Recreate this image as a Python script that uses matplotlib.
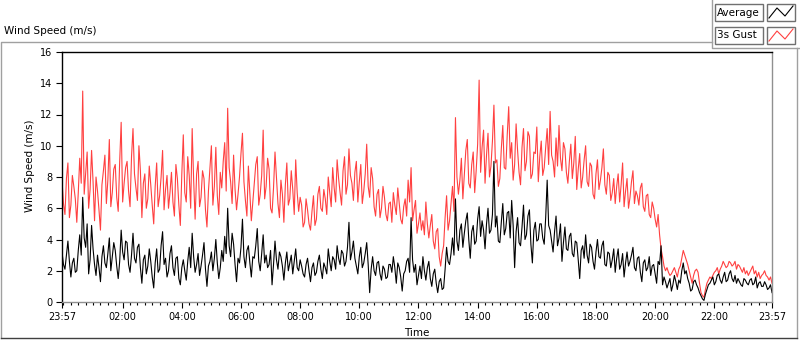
import numpy as np
import matplotlib.pyplot as plt
from matplotlib.patches import Rectangle
from matplotlib.lines import Line2D

# 3 s gust wind speed (m/s), one value every 3 minutes starting 23:57
gust = [7.8, 6.3, 5.6, 7.9, 8.9, 5.4, 6.2, 8.1, 7.4, 6.6,
        5.1, 7.0, 9.2, 7.6, 13.5, 6.9, 8.3, 9.6, 6.0, 7.2,
        9.7, 7.7, 5.2, 8.0, 7.1, 5.9, 4.6, 7.5, 8.4, 9.4,
        6.3, 7.8, 10.4, 6.1, 7.0, 8.5, 8.8, 6.7, 5.8, 9.0,
        11.5, 6.4, 7.6, 8.6, 9.0, 7.1, 6.1, 9.3, 11.1, 8.2,
        7.3, 6.5, 10.0, 8.4, 5.4, 7.6, 8.2, 6.0, 6.6, 8.7,
        7.5, 6.2, 5.0, 7.4, 8.9, 6.1, 6.8, 8.0, 9.7, 5.9,
        7.2, 8.1, 6.0, 7.0, 8.3, 6.4, 5.5, 8.8, 7.9, 6.2,
        4.9, 8.2,
        10.7, 7.0, 6.4, 9.3, 8.1, 6.0, 11.1, 7.8, 5.3, 8.2,
        9.0, 6.1, 6.7, 8.4, 7.9, 5.9, 4.8, 7.1, 8.6, 10.0,
        6.2, 7.4, 9.9, 6.8, 5.6, 8.3, 7.3, 9.0, 10.2, 7.1,
        12.4, 8.6, 7.7, 6.3, 9.4, 7.2, 5.9, 6.9, 8.0, 9.5,
        10.8, 7.7, 6.5, 5.5, 8.7, 7.0, 5.2, 6.4, 7.6, 8.8,
        9.3, 6.2, 6.9, 8.1, 11.0, 6.6, 7.4, 9.2, 8.5, 6.0,
        5.7, 7.3, 9.6, 8.0, 6.3, 5.4, 7.8, 6.9, 5.1, 7.5,
        8.9, 6.2, 6.6, 8.4, 7.2, 5.6, 9.1, 7.0, 5.8, 6.7,
        6.2, 4.8, 5.1, 6.6, 5.9, 5.0, 4.6, 5.8, 6.8, 4.9,
        5.3, 6.9, 7.4, 6.0, 5.8, 7.2, 6.6, 5.6, 8.0, 7.0,
        6.1, 8.6, 7.3, 6.4, 9.1, 7.9, 7.0, 6.2, 8.4, 9.3,
        6.9, 7.5, 9.8, 8.1, 7.6, 6.5, 8.3, 9.0, 6.4, 7.7,
        8.8, 6.3, 7.1, 8.2, 10.1, 7.4, 6.7, 8.6, 7.9, 6.1,
        5.5, 6.9, 7.2, 5.4, 6.0, 7.4, 6.7, 5.6, 5.2, 6.3,
        6.4, 5.1, 7.0, 6.2, 5.6, 7.3, 6.3, 5.3, 5.0, 6.1,
        6.6, 5.5, 7.8, 6.4, 8.6, 5.2, 5.9, 6.5, 4.4, 5.0,
        5.7, 4.6,
        5.2, 4.3, 6.4, 5.0, 4.1, 4.9, 5.6, 3.9, 3.4, 4.5,
        4.7, 2.9, 2.3, 3.1, 3.6, 5.4, 6.8, 4.6, 5.2, 6.3,
        7.4, 5.8, 11.8, 8.0, 6.9, 7.8, 9.2, 6.6, 8.1, 9.7,
        10.4, 7.6, 7.3, 8.8, 9.6, 7.0, 8.4, 10.1, 14.2, 8.3,
        9.9, 11.0, 7.6, 9.4, 10.8, 8.0, 8.7, 10.3, 12.6, 8.9,
        9.1, 7.4, 7.9, 9.8, 11.3, 8.6, 8.5, 10.7, 12.5, 9.2,
        10.2, 7.8, 8.8, 11.4, 9.7, 8.3, 7.5, 9.9, 11.1, 8.4,
        9.0, 10.9, 10.6, 7.9, 8.2, 9.6, 9.5, 11.2, 7.7, 9.3,
        10.3, 8.1, 8.6, 9.9, 11.1, 8.8, 12.2, 9.4, 9.0, 8.0,
        10.5, 8.7, 11.3, 9.2, 8.4, 10.2, 9.8, 8.3, 7.6, 9.0,
        10.1, 7.9, 8.9, 10.6, 7.2, 8.5, 9.5, 7.3, 8.0, 9.1,
        10.0, 7.7, 7.4, 8.9, 8.7, 6.9, 6.6, 8.2, 9.1, 7.2,
        7.8, 8.6, 9.8, 7.5, 6.9, 8.3, 8.1, 6.5, 7.0, 7.9,
        6.3, 7.4, 8.2, 6.4, 7.5, 8.9, 6.1, 7.1, 7.9, 6.0,
        6.7, 7.7, 8.4, 6.3, 7.1, 6.8, 6.2, 7.3, 7.6, 6.1,
        5.8, 6.8, 6.9, 5.6, 5.4, 6.4, 6.0, 5.3, 4.8, 5.6,
        4.3, 3.4,
        2.9, 2.3, 2.0, 2.2, 1.9, 1.7, 1.8, 2.0, 2.2, 1.9,
        1.6, 2.1, 2.3, 2.8, 3.3, 3.0, 2.7, 2.4, 2.0, 1.6,
        1.2, 1.7, 2.0, 2.1, 1.9, 1.2, 0.6, 0.4, 0.3, 0.8,
        1.2, 1.4, 1.6, 1.5, 1.7, 1.9, 2.0, 2.2, 1.8, 2.1,
        2.3, 2.6, 2.4, 2.2, 2.3, 2.6, 2.5, 2.3, 2.4, 2.6,
        2.1, 2.4, 2.3, 2.1, 1.9, 2.2, 1.8, 2.0, 1.7, 1.9,
        2.1, 2.3, 1.8, 2.0, 1.6, 1.9, 1.5, 1.7, 1.8, 2.0,
        1.7, 1.6, 1.4, 1.6, 1.2]

# average wind speed (m/s), same timestamps
avg = [3.2, 2.4, 2.1, 3.0, 3.9, 2.6, 1.6, 2.5, 2.8, 1.9,
       2.0, 3.3, 4.3, 3.0, 6.7, 4.1, 3.5, 5.0, 1.8, 2.7,
       4.9, 3.4, 2.4, 1.7, 3.0, 2.2, 1.3, 2.9, 3.6, 2.5,
       2.2, 3.1, 4.1, 2.0, 2.9, 3.8, 3.3, 2.3, 1.5, 2.6,
       4.6, 3.2, 2.7, 3.9, 3.8, 2.4, 1.9, 3.0, 4.4, 2.8,
       2.5, 3.5, 3.7, 2.2, 1.2, 2.7, 3.0, 1.8, 2.3, 3.4,
       2.6, 1.6, 0.9, 2.5, 3.4, 1.9, 2.1, 3.6, 4.5, 2.4,
       2.8, 1.6, 2.0, 3.1, 3.6, 2.2, 1.7, 2.8, 2.9, 1.5,
       1.1, 2.2,
       2.7, 2.0, 1.4, 2.6, 3.5, 2.2, 4.4, 2.9, 1.9, 2.4,
       3.1, 1.7, 2.3, 3.0, 3.8, 2.1, 1.0, 2.3, 2.6, 3.2,
       2.0, 2.8, 4.0, 2.5, 1.5, 2.2, 3.3, 2.6, 4.2, 3.1,
       6.0, 3.6, 2.9, 4.4, 3.7, 2.4, 1.3, 2.8, 2.5, 3.5,
       5.3, 2.9, 2.2, 3.3, 3.6, 2.5, 1.6, 2.9, 2.8, 3.6,
       4.7, 2.6, 2.0, 3.1, 4.3, 2.5, 3.0, 2.2, 2.4, 3.3,
       1.1, 2.4, 3.9, 2.7, 2.1, 3.2, 2.9, 2.3, 1.4, 2.5,
       3.2, 2.0, 2.5, 3.0, 1.8, 2.6, 3.4, 2.2, 2.0, 2.7,
       2.3, 1.8, 1.6, 2.4, 2.8, 2.0, 1.3, 2.2, 2.5, 1.7,
       1.9, 2.6, 3.0, 2.1, 1.5, 2.5, 2.2, 1.8, 3.4, 2.6,
       2.0, 2.9, 2.7, 2.1, 3.6, 2.8, 2.4, 3.3, 3.1, 2.3,
       2.6, 3.5, 5.1, 2.7, 3.2, 3.9, 2.8, 2.3, 1.8, 2.9,
       3.5, 2.2, 2.5, 3.1, 3.8, 2.4, 0.6, 2.1, 2.9, 2.0,
       1.7, 2.5, 2.6, 1.8, 1.4, 2.3, 2.1, 1.5, 1.6, 2.4,
       2.4, 1.9, 2.9, 2.2, 1.2, 2.5, 2.2, 1.6, 0.7, 1.8,
       2.0, 2.6, 2.8, 1.9, 5.4, 2.7, 1.9, 2.4, 1.1, 1.7,
       2.3, 1.5,
       2.9, 2.0, 1.4, 2.2, 2.6, 1.5, 1.0, 1.8, 2.1, 1.2,
       0.6, 1.3, 1.5, 0.8, 0.9, 2.1, 3.5, 2.6, 2.4, 3.1,
       4.1, 3.0, 6.6, 3.9, 3.3, 4.6, 5.0, 3.5, 4.4, 5.2,
       5.7, 4.0, 2.8, 4.5, 4.9, 3.7, 3.9, 5.3, 6.1, 4.2,
       5.2, 4.6, 3.4, 5.0, 6.0, 4.4, 4.6, 5.6, 9.0, 4.8,
       5.5, 3.9, 3.8, 5.1, 6.3, 4.3, 4.7, 5.7, 5.8, 4.1,
       6.5, 4.9, 2.2, 4.5, 5.4, 3.8, 3.6, 4.8, 6.2, 4.0,
       4.3, 5.5, 5.9, 3.7, 2.5, 4.6, 5.1, 3.9, 4.0, 5.0,
       5.0, 4.1, 3.7, 5.4, 7.8, 4.9, 4.6, 3.9, 3.2, 4.5,
       5.5, 3.6, 4.1, 5.0, 2.6, 3.8, 4.8, 3.4, 3.3, 4.2,
       4.4, 3.1, 2.9, 3.9, 3.8, 2.7, 1.5, 3.3, 3.6, 2.8,
       4.3, 3.0, 2.5, 3.7, 3.5, 2.6, 2.1, 3.2, 4.0, 2.9,
       2.8, 3.6, 3.9, 2.4, 2.3, 3.2, 3.1, 2.2, 2.7, 3.4,
       1.9, 2.8, 3.4, 2.1, 2.4, 3.1, 1.6, 2.5, 3.2, 2.3,
       2.6, 3.0, 3.5, 2.2, 2.0, 2.8, 2.9, 1.9, 1.3, 2.5,
       2.7, 2.0, 2.2, 2.9, 1.7, 2.3, 2.4, 1.8, 1.2, 2.6,
       2.4, 3.6,
       1.1, 1.6, 1.3, 0.9, 1.2, 1.5, 0.7, 1.1, 1.7, 1.3,
       0.8, 1.4, 1.2, 2.0, 2.5, 1.8, 2.0, 1.5, 1.2, 0.7,
       0.8, 1.3, 1.4, 1.1, 0.9, 0.6, 0.4, 0.2, 0.1, 0.5,
       0.8, 1.1, 1.2, 1.4, 1.6, 1.1, 1.3, 1.7, 1.8, 1.4,
       1.2, 1.6, 1.9, 1.3, 1.4, 1.8, 2.0, 1.5, 1.3, 1.7,
       1.2, 1.5, 1.3, 1.1, 1.0, 1.5, 1.4, 1.2, 1.1, 1.4,
       1.5, 1.1, 1.2, 1.6, 0.9, 1.2, 1.3, 1.0, 1.0, 1.3,
       1.1, 0.8, 0.9, 1.1, 0.6]

step_min = 3

tick_pos = [0, 123, 243, 363, 483, 603, 723, 843, 963, 1083, 1203, 1323, 1440]
tick_labels = ["23:57", "02:00", "04:00", "06:00", "08:00", "10:00", "12:00",
               "14:00", "16:00", "18:00", "20:00", "22:00", "23:57"]
minor_pos = np.arange(3, 1440, 15)

W, H = 800, 342
def fx(x):
    return x / W
def fy(y):
    return 1 - y / H

plt.rcParams['font.family'] = 'DejaVu Sans'
fig = plt.figure(figsize=(8, 3.42), dpi=100)
ax = fig.add_axes([fx(62), fy(302), 710 / W, 250 / H])

ax.plot(np.arange(len(gust)) * step_min, gust, color='#ff4040', lw=0.8)
ax.plot(np.arange(len(avg)) * step_min, avg, color='black', lw=0.8)

ax.set_xlim(0, 1440)
ax.set_ylim(0, 16)
ax.set_yticks(range(0, 17, 2))
ax.set_xticks(tick_pos)
ax.set_xticklabels(tick_labels)
ax.set_xticks(minor_pos, minor=True)
ax.tick_params(axis='both', labelsize=7, direction='out', length=4, width=0.8, pad=3)
ax.tick_params(axis='x', which='minor', length=2.5, width=0.8)
ax.tick_params(axis='x', which='major', length=4.5)

ax.spines['left'].set_color('black')
ax.spines['top'].set_color('black')
ax.spines['bottom'].set_color('#909090')
ax.spines['right'].set_color('#909090')
for s in ax.spines.values():
    s.set_linewidth(1)

fig.text(fx(30), fy(166), 'Wind Speed (m/s)', rotation=90, ha='center', va='center', fontsize=7.5)
fig.text(fx(417), fy(333), 'Time', ha='center', va='center', fontsize=7.5)
fig.text(fx(4), fy(31), 'Wind Speed (m/s)', ha='left', va='center', fontsize=7.5)

# panel frame
gray = '#a0a0a0'
fig.add_artist(Line2D([fx(1), fx(1), fx(712)], [fy(338), fy(42), fy(42)],
                      transform=fig.transFigure, color=gray, lw=1))
fig.add_artist(Line2D([fx(712), fx(712), fx(799)], [fy(0), fy(48), fy(48)],
                      transform=fig.transFigure, color=gray, lw=1))
fig.add_artist(Line2D([fx(797), fx(797)], [fy(48), fy(338)],
                      transform=fig.transFigure, color=gray, lw=1))
fig.add_artist(Line2D([fx(1), fx(797)], [fy(338), fy(338)],
                      transform=fig.transFigure, color='#404040', lw=1))

# legend
entries = [('Average', 'black', 4), ('3s Gust', '#ff4040', 27)]
for name, col, top in entries:
    fig.add_artist(Rectangle((fx(715), fy(top + 17)), 48 / W, 17 / H,
                             transform=fig.transFigure, fc='white', ec='#707070', lw=1))
    fig.add_artist(Rectangle((fx(767), fy(top + 17)), 28 / W, 17 / H,
                             transform=fig.transFigure, fc='white', ec='#707070', lw=1))
    fig.text(fx(717), fy(top + 8.5), name, ha='left', va='center', fontsize=7.5)
    zx = [769, 777, 785, 793]
    zy = [top + 14, top + 4, top + 12, top + 2]
    fig.add_artist(Line2D([fx(v) for v in zx], [fy(v) for v in zy],
                          transform=fig.transFigure, color=col, lw=0.8))

print(len(gust), len(avg))
fig.savefig('out.png', dpi=100)
